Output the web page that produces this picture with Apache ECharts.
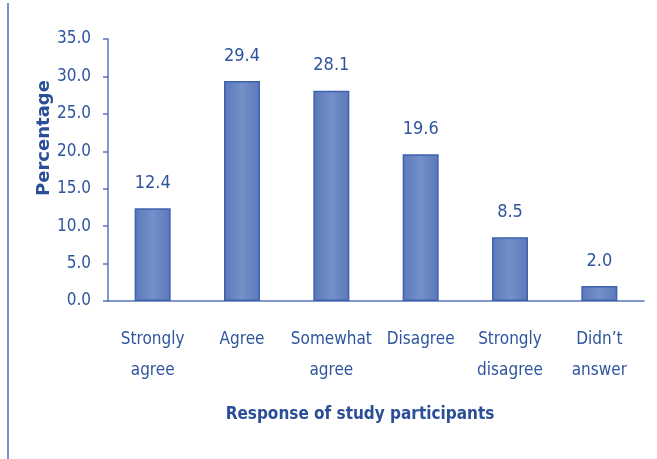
<!DOCTYPE html>
<html>
<head>
<meta charset="utf-8">
<script src="https://cdn.jsdelivr.net/npm/echarts@6/dist/echarts.min.js"></script>
<style>html,body{margin:0;padding:0;background:#fff;}#c{width:657px;height:459px;}</style>
</head>
<body>
<div id="c"></div>
<script>
const categories = ["Strongly\nagree", "Agree", "Somewhat\nagree", "Disagree", "Strongly\ndisagree", "Didn\u2019t\nanswer"];
const values = [12.4, 29.4, 28.1, 19.6, 8.5, 2.0];
const yTicks = { min: 0, max: 35, interval: 5 };

const textColor = '#2F559E';
const narrow = '"Liberation Sans Narrow", "DejaVu Sans Condensed", sans-serif';
const chart = echarts.init(document.getElementById('c'));
chart.setOption({
  animation: false,
  backgroundColor: '#fff',
  grid: { left: 108, right: 13, top: 39, bottom: 158, containLabel: false },
  graphic: [{
    type: 'line', shape: { x1: 8, y1: 3, x2: 8, y2: 459 },
    style: { stroke: '#7191D1', lineWidth: 2 }, silent: true
  }],
  xAxis: {
    type: 'category',
    data: categories,
    name: 'Response of study participants',
    nameLocation: 'middle',
    nameGap: 105,
    nameMoveOverlap: false,
    nameTextStyle: { color: '#2B4F96', fontFamily: narrow, fontWeight: 'bold', fontSize: 17, padding: [0, 32, 0, 0] },
    axisLine: { lineStyle: { color: '#5676BA', width: 1.5 } },
    axisTick: { show: false },
    axisLabel: { color: textColor, fontFamily: narrow, fontSize: 17, lineHeight: 31, margin: 23, interval: 0 }
  },
  yAxis: {
    type: 'value',
    min: yTicks.min, max: yTicks.max, interval: yTicks.interval,
    name: 'Percentage',
    nameLocation: 'middle',
    nameRotate: 90,
    nameGap: 55,
    nameMoveOverlap: false,
    nameTextStyle: { color: '#2B4F96', fontFamily: '"DejaVu Sans", sans-serif', fontWeight: 'bold', fontSize: 18, padding: [0, 0, 0, 64] },
    splitLine: { show: false },
    axisLine: { show: true, lineStyle: { color: '#5676BA', width: 1.5 } },
    axisTick: { show: true, length: 5, lineStyle: { color: '#5676BA', width: 1.5 } },
    axisLabel: { color: textColor, fontFamily: narrow, fontSize: 17, margin: 17, formatter: v => v.toFixed(1) }
  },
  series: [{
    type: 'bar',
    data: values,
    barWidth: 36,
    itemStyle: {
      color: new echarts.graphic.LinearGradient(0, 0, 1, 0, [
        { offset: 0, color: '#5B79BA' },
        { offset: 0.5, color: '#7390C9' },
        { offset: 1, color: '#5B79BA' }
      ]),
      borderColor: '#3F62AE',
      borderWidth: 1.5
    },
    label: {
      show: true, position: 'top', distance: 16,
      color: textColor, fontFamily: narrow, fontSize: 18,
      formatter: p => p.value.toFixed(1)
    }
  }]
});
</script>
</body>
</html>
